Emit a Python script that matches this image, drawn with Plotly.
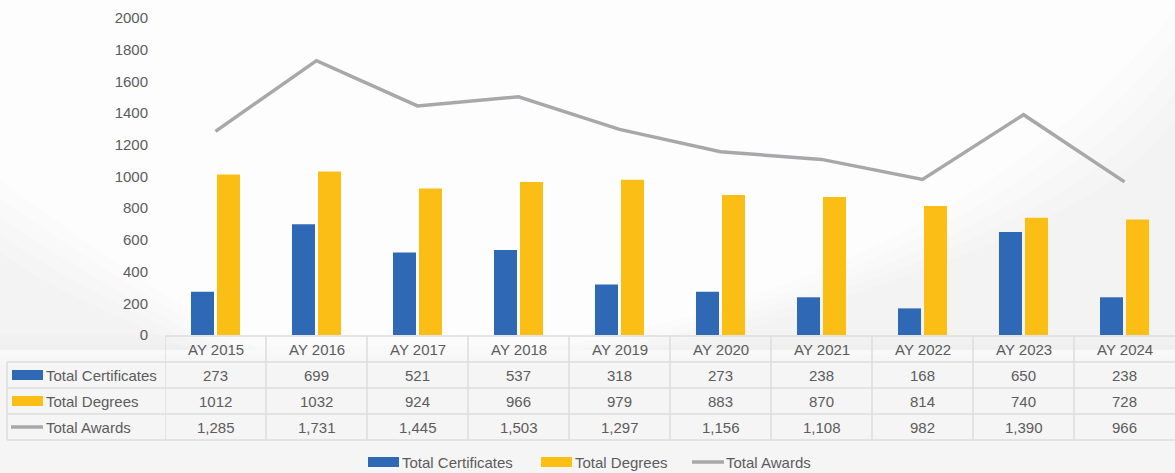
import plotly.graph_objects as go

categories = ["AY 2015", "AY 2016", "AY 2017", "AY 2018", "AY 2019",
              "AY 2020", "AY 2021", "AY 2022", "AY 2023", "AY 2024"]
certificates = [273, 699, 521, 537, 318, 273, 238, 168, 650, 238]
degrees = [1012, 1032, 924, 966, 979, 883, 870, 814, 740, 728]
awards = [1285, 1731, 1445, 1503, 1297, 1156, 1108, 982, 1390, 966]
series_names = ["Total Certificates", "Total Degrees", "Total Awards"]
y_ticks = [0, 200, 400, 600, 800, 1000, 1200, 1400, 1600, 1800, 2000]

BLUE = "#2F69B5"
GOLD = "#FBBE14"
GREY = "#A8A8AA"
TXT = "#5C5C5C"
GRID = "#DCDCDC"
FONT = "Liberation Sans"
FS = 15

W, H = 1175, 473
ML, MR, MT, MB = 165, 0, 18, 138
PW = W - ML - MR
PH = H - MT - MB


def px(X):
    return (X - ML) / PW


def py(Y):
    return (H - MB - Y) / PH


fig = go.Figure()
fig.add_trace(go.Bar(x=categories, y=certificates, name=series_names[0],
                     marker=dict(color=BLUE, line=dict(width=0))))
fig.add_trace(go.Bar(x=categories, y=degrees, name=series_names[1],
                     marker=dict(color=GOLD, line=dict(width=0))))
fig.add_trace(go.Scatter(x=categories, y=awards, name=series_names[2], mode="lines",
                         line=dict(color=GREY, width=3.5)))

shapes = []
annotations = []

# background swooshes (soft, layered)
for s in range(5):
    d = s * 18
    op = 0.009
    # right region
    p = (f"M {px(540 + d * 2)},{py(350)} C {px(820 + d)},{py(300 - d * 0.3)} "
         f"{px(1030 + d)},{py(190 + d * 0.5)} {px(1175)},{py(10 + d * 1.5)} "
         f"L {px(1175)},{py(350)} Z")
    shapes.append(dict(type="path", path=p, xref="paper", yref="paper",
                       fillcolor=f"rgba(0,0,0,{op})", line=dict(width=0), layer="below"))
    # left band
    p = (f"M {px(0)},{py(180 + d)} C {px(70)},{py(230 + d)} {px(150)},{py(290 + d * 0.5)} "
         f"{px(260 - d)},{py(350)} L {px(0)},{py(350)} Z")
    shapes.append(dict(type="path", path=p, xref="paper", yref="paper",
                       fillcolor=f"rgba(0,0,0,{op})", line=dict(width=0), layer="below"))
# lower band
for s in range(4):
    d = s * 10
    p = (f"M {px(0)},{py(335 + d)} L {px(1175)},{py(335 + d)} L {px(1175)},{py(473)} "
         f"L {px(0)},{py(473)} Z")
    shapes.append(dict(type="path", path=p, xref="paper", yref="paper",
                       fillcolor="rgba(0,0,0,0.008)", line=dict(width=0), layer="below"))

# data table
n = len(categories)
row_tops = [336, 362, 388, 414, 440]
line_style = dict(color=GRID, width=1.5)
shapes.append(dict(type="line", xref="paper", yref="paper", x0=px(165), x1=1,
                   y0=py(row_tops[0]), y1=py(row_tops[0]), line=line_style))
for yy in row_tops[1:]:
    shapes.append(dict(type="line", xref="paper", yref="paper", x0=px(7), x1=1,
                       y0=py(yy), y1=py(yy), line=line_style))
shapes.append(dict(type="line", xref="paper", yref="paper", x0=px(7), x1=px(7),
                   y0=py(row_tops[1]), y1=py(row_tops[-1]), line=line_style))
for i in range(n):
    shapes.append(dict(type="line", xref="x", yref="paper", x0=i - 0.5, x1=i - 0.5,
                       y0=py(row_tops[0]), y1=py(row_tops[-1]), line=line_style))

row_centers = [(row_tops[k] + row_tops[k + 1]) / 2 for k in range(4)]
row_texts = [categories,
             [f"{v}" for v in certificates],
             [f"{v}" for v in degrees],
             [f"{v:,}" for v in awards]]
for r, texts in enumerate(row_texts):
    for i, t in enumerate(texts):
        annotations.append(dict(x=i, y=py(row_centers[r]), xref="x", yref="paper", text=t,
                                xanchor="center", yanchor="middle", showarrow=False,
                                font=dict(size=FS, color=TXT, family=FONT)))

key_colors = [BLUE, GOLD, GREY]
for k, name in enumerate(series_names):
    yc = row_centers[k + 1]
    if k < 2:
        shapes.append(dict(type="rect", xref="paper", yref="paper", x0=px(12), x1=px(43),
                           y0=py(yc - 5), y1=py(yc + 5), fillcolor=key_colors[k],
                           line=dict(width=0)))
    else:
        shapes.append(dict(type="line", xref="paper", yref="paper", x0=px(11), x1=px(43),
                           y0=py(yc), y1=py(yc), line=dict(color=GREY, width=3.5)))
    annotations.append(dict(x=px(44), y=py(yc), xref="paper", yref="paper", text=name,
                            xanchor="left", yanchor="middle", showarrow=False,
                            font=dict(size=FS, color=TXT, family=FONT)))

# bottom legend
leg_y = 462
leg_x = [368, 541, 692]
for k, name in enumerate(series_names):
    x0 = leg_x[k]
    if k < 2:
        shapes.append(dict(type="rect", xref="paper", yref="paper", x0=px(x0), x1=px(x0 + 31),
                           y0=py(leg_y - 5), y1=py(leg_y + 5), fillcolor=key_colors[k],
                           line=dict(width=0)))
    else:
        shapes.append(dict(type="line", xref="paper", yref="paper", x0=px(x0), x1=px(x0 + 32),
                           y0=py(leg_y), y1=py(leg_y), line=dict(color=GREY, width=3.5)))
    annotations.append(dict(x=px(x0 + 32), y=py(leg_y), xref="paper", yref="paper", text=name,
                            xanchor="left", yanchor="middle", showarrow=False,
                            font=dict(size=FS, color=TXT, family=FONT)))

fig.update_layout(
    width=W, height=H,
    margin=dict(l=ML, r=MR, t=MT, b=MB),
    paper_bgcolor="#FDFDFD", plot_bgcolor="rgba(0,0,0,0)",
    barmode="group", bargap=0.485, bargroupgap=0.115,
    showlegend=False,
    shapes=shapes, annotations=annotations,
    font=dict(family=FONT, color=TXT, size=FS),
    xaxis=dict(type="category", range=[-0.5, n - 0.5], showticklabels=False,
               showgrid=False, zeroline=False, showline=False, ticks=""),
    yaxis=dict(range=[0, 2000], tickvals=y_ticks, showgrid=False, zeroline=False,
               showline=False, ticks="", ticklabelstandoff=16,
               tickfont=dict(size=FS, color=TXT, family=FONT)),
)

fig.write_html("out.html", config={"displayModeBar": False},
               post_script="document.body.style.margin='0px';")
